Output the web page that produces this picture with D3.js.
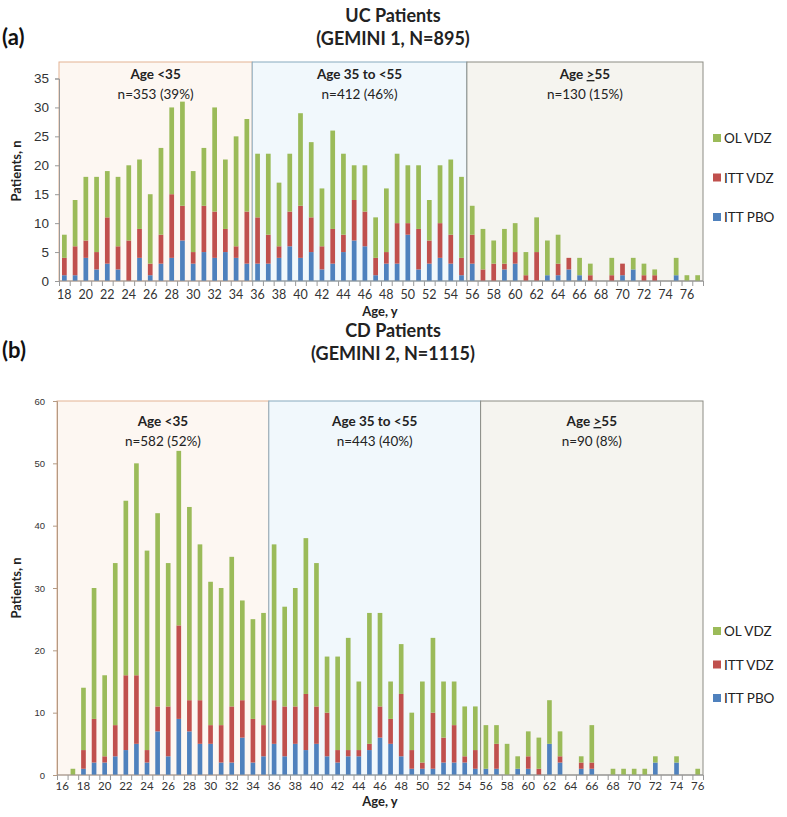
<!DOCTYPE html>
<html>
<head>
<meta charset="utf-8">
<script src="https://cdn.jsdelivr.net/npm/d3@7"></script>
<style>
  body { margin: 0; background: #fff; }
  svg { font-family: Lato, "Open Sans", sans-serif; }
</style>
</head>
<body>
<svg id="chart" width="787" height="817"></svg>
<script>
// ---- data: UC patients (GEMINI 1), ages 18..77
var ucAges = d3.range(18, 78);
var ucPBO = [1,1,4,2,3,2,0,4,1,3,4,7,3,5,4,5,4,3,
             3,3,4,6,4,5,2,3,5,7,6,1,3,3,8,2,3,4,3,1,
             3,0,0,2,3,0,0,1,1,2,1,0,0,0,1,2,0,0,0,1,0,0];
var ucVDZ = [3,5,3,3,8,4,7,5,2,5,11,6,2,8,8,4,2,9,
             8,5,2,6,9,6,4,6,3,7,6,3,2,7,2,7,4,6,5,3,
             5,2,3,1,2,1,5,0,2,2,0,1,0,1,2,0,1,1,0,0,0,0];
var ucOL  = [4,8,11,13,8,12,13,12,12,15,15,18,14,10,18,12,19,16,
             11,14,11,10,16,13,10,17,14,6,8,7,11,12,10,11,7,10,13,14,
             5,7,4,6,5,4,6,6,5,0,3,2,0,3,0,2,2,1,0,3,1,1];
var ucGroups = [
  {label: "Age <35", n: "n=353 (39%)", from: 18, to: 35},
  {label: "Age 35 to <55", n: "n=412 (46%)", from: 36, to: 55},
  {label: "Age ", under: "55", n: "n=130 (15%)", from: 56, to: 77}
];

// ---- data: CD patients (GEMINI 2), ages 16..76
var cdAges = d3.range(16, 77);
var cdPBO = [0,0,1,2,2,3,4,5,2,7,3,9,7,5,5,2,2,6,2,3,
             5,3,5,4,5,3,2,3,3,4,6,5,3,1,1,1,2,2,2,1,
             1,1,0,1,1,0,5,2,0,1,1,0,0,0,0,0,2,0,2,0,0];
var cdVDZ = [0,0,3,7,1,5,12,11,2,4,8,15,5,7,3,6,9,6,7,5,
             7,8,6,9,6,7,2,1,1,1,5,4,10,3,1,9,4,6,1,3,
             0,4,0,0,2,1,0,1,0,1,1,0,0,0,0,0,0,0,0,0,0];
var cdOL  = [0,1,10,21,13,26,28,34,32,31,23,28,31,25,23,22,24,16,16,18,
             25,16,19,25,23,9,15,18,11,21,15,6,8,6,13,12,9,7,8,7,
             7,3,5,2,4,5,7,4,0,1,6,0,1,1,1,1,1,0,1,0,1];
var cdGroups = [
  {label: "Age <35", n: "n=582 (52%)", from: 16, to: 35},
  {label: "Age 35 to <55", n: "n=443 (40%)", from: 36, to: 55},
  {label: "Age ", under: "55", n: "n=90 (8%)", from: 56, to: 76}
];

var seriesKeys = ["pbo", "vdz", "ol"];
var seriesNames = {ol: "OL VDZ", vdz: "ITT VDZ", pbo: "ITT PBO"};
var colors = {pbo: "#4f81bd", vdz: "#c0504d", ol: "#9bbb59"};
var boxFill = ["#fdf7f2", "#f1f8fc", "#f5f4ef"];
var boxStroke = ["#e3b394", "#88a9bd", "#8c8c84"];

var svg = d3.select("#chart");

function drawPanel(p) {
  var g = svg.append("g");
  var rows = p.ages.map(function(a, i) {
    return {age: a, pbo: p.pbo[i], vdz: p.vdz[i], ol: p.ol[i]};
  });
  var x = d3.scaleBand().domain(p.ages).range([p.left, p.right]).paddingInner(0.56).paddingOuter(0.28);
  var y = d3.scaleLinear().domain([0, p.ymax]).range([p.bottom, p.ytop]);

  // age-group boxes
  p.groups.forEach(function(gr, i) {
    var x0 = i == 0 ? p.left : x(gr.from) - x.step() * x.paddingInner() / 2;
    var x1 = i == p.groups.length - 1 ? p.right : x(gr.to) + x.bandwidth() + x.step() * x.paddingInner() / 2;
    g.append("rect").attr("x", x0).attr("y", p.boxTop).attr("width", x1 - x0).attr("height", p.bottom - p.boxTop)
      .style("fill", boxFill[i]).style("stroke", boxStroke[i]).style("stroke-width", 1);
    var t = g.append("text").attr("x", (x0 + x1) / 2).attr("y", p.boxTop + p.lab1)
      .attr("text-anchor", "middle").style("font-weight", "bold").style("font-size", p.labSize + "px").style("fill", "#222")
      .text(gr.label);
    if (gr.under) {
      t.append("tspan").style("text-decoration", "underline").text(">");
      t.append("tspan").text(gr.under);
    }
    g.append("text").attr("x", (x0 + x1) / 2).attr("y", p.boxTop + p.lab2)
      .attr("text-anchor", "middle").style("font-size", p.labSize + "px").style("fill", "#222")
      .text(gr.n);
  });

  // stacked bars
  var stacked = d3.stack().keys(seriesKeys)(rows);
  g.append("g").selectAll("g").data(stacked).enter().append("g")
    .style("fill", function(d) { return colors[d.key]; })
    .selectAll("rect").data(function(d) { return d; }).enter().append("rect")
    .attr("x", function(d) { return x(d.data.age); })
    .attr("width", x.bandwidth())
    .attr("y", function(d) { return y(d[1]); })
    .attr("height", function(d) { return y(d[0]) - y(d[1]); });

  // y axis
  var yAxis = g.append("g").attr("transform", "translate(" + p.left + ",0)")
    .call(d3.axisLeft(y).tickValues(d3.range(0, p.ymax + 1, p.ystep)).tickSize(4).tickPadding(p.ypad));
  yAxis.select(".domain").attr("stroke", p.yAxisColor);
  yAxis.selectAll(".tick line").attr("stroke", p.yAxisColor);
  yAxis.selectAll("text").style("font-size", p.yFont + "px").style("fill", "#333").style("font-family", "inherit");

  // x axis: tick at each band edge, label every other age
  g.append("line").attr("x1", p.left).attr("x2", p.right).attr("y1", p.bottom).attr("y2", p.bottom)
    .style("stroke", "#999").style("stroke-width", 1);
  g.append("g").selectAll("line").data(p.ages.concat([null])).enter().append("line")
    .attr("x1", function(d, i) { return p.left + i * x.step() + 0.5; })
    .attr("x2", function(d, i) { return p.left + i * x.step() + 0.5; })
    .attr("y1", p.bottom).attr("y2", p.bottom + 5).style("stroke", "#999");
  g.append("g").selectAll("text").data(p.ages.filter(function(a) { return a % 2 == 0; })).enter().append("text")
    .attr("x", function(d) { return x(d) + x.bandwidth() / 2; })
    .attr("y", p.bottom + p.xlabDy).attr("text-anchor", "middle")
    .style("font-size", p.xFont + "px").style("fill", "#333").text(function(d) { return d; });

  // axis titles
  g.append("text").attr("x", 380).attr("y", p.bottom + p.xTitleDy).attr("text-anchor", "middle")
    .style("font-weight", "bold").style("font-size", "13px").style("fill", "#222").text("Age, y");
  g.append("text").attr("transform", "translate(21," + p.yTitleY + ") rotate(-90)").attr("text-anchor", "middle")
    .style("font-weight", "bold").style("font-size", "13px").style("fill", "#222").text("Patients, n");

  // titles
  g.append("text").attr("x", 393).attr("y", p.titleY).attr("text-anchor", "middle")
    .style("font-weight", "bold").style("font-size", "18px").style("fill", "#222").text(p.title1);
  g.append("text").attr("x", 393).attr("y", p.titleY + 23).attr("text-anchor", "middle")
    .style("font-weight", "bold").style("font-size", "18px").style("fill", "#222").text(p.title2);
  g.append("text").attr("x", 2).attr("y", p.tagY).style("font-weight", "bold").style("font-size", "22px")
    .style("fill", "#111").text(p.tag);

  // legend
  var lg = g.append("g").selectAll("g").data(["ol", "vdz", "pbo"]).enter().append("g")
    .attr("transform", function(d, i) { return "translate(713," + (p.legY + i * p.legStep) + ")"; });
  lg.append("rect").attr("x", 0).attr("y", -4).attr("width", 8).attr("height", 8).style("fill", function(d) { return colors[d]; });
  lg.append("text").attr("x", 11).attr("y", 5).style("font-size", "13.5px").style("fill", "#222")
    .text(function(d) { return seriesNames[d]; });
}

drawPanel({
  ages: ucAges, pbo: ucPBO, vdz: ucVDZ, ol: ucOL, groups: ucGroups,
  left: 59, right: 703, bottom: 281, ytop: 78.5, ymax: 35, ystep: 5, boxTop: 62,
  lab1: 17, lab2: 37, labSize: 13.5, yFont: 13.5, ypad: 6, yAxisColor: "#999", xFont: 12.5, xlabDy: 18,
  xTitleDy: 35, yTitleY: 171, title1: "UC Patients", title2: "(GEMINI 1, N=895)", titleY: 22,
  tag: "(a)", tagY: 45, legY: 138, legStep: 39.5
});
drawPanel({
  ages: cdAges, pbo: cdPBO, vdz: cdVDZ, ol: cdOL, groups: cdGroups,
  left: 57, right: 703, bottom: 775, ytop: 401, ymax: 60, ystep: 10, boxTop: 401,
  lab1: 25, lab2: 45, labSize: 13.5, yFont: 9.5, ypad: 8, yAxisColor: "#b49a84", xFont: 11.5, xlabDy: 15,
  xTitleDy: 31, yTitleY: 588, title1: "CD Patients", title2: "(GEMINI 2, N=1115)", titleY: 337,
  tag: "(b)", tagY: 358, legY: 631, legStep: 33.5
});
</script>
</body>
</html>
